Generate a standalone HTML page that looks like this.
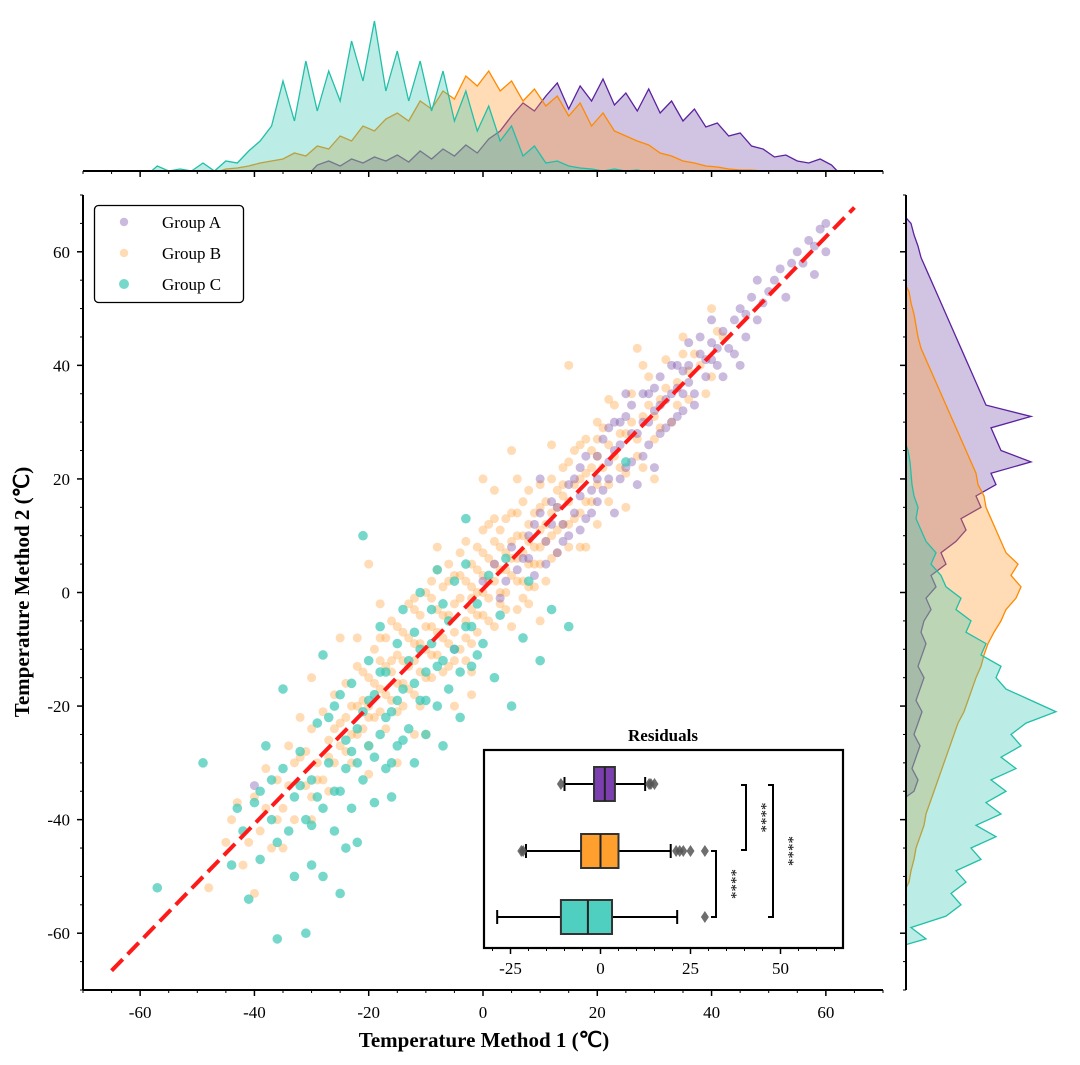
<!DOCTYPE html>
<html><head><meta charset="utf-8">
<style>
html,body{margin:0;padding:0;background:#fff;}
svg{display:block;font-family:"Liberation Serif",serif;}
</style></head>
<body>
<svg id="chart" width="1080" height="1065" viewBox="0 0 1080 1065" xmlns="http://www.w3.org/2000/svg"></svg>
<script>
// ---------- data ----------
const groupNames = ["Group A","Group B","Group C"];
const groupA = [[-40,-34],[-5,-10],[0,2],[2,5],[3,-1],[5,8],[6,4],[8,10],[9,3],[10,14],[11,9],[12,16],[13,7],[14,12],[15,19],[16,14],[17,22],[18,13],[19,18],[20,24],[20,16],[21,27],[22,20],[23,14],[23,25],[24,30],[25,22],[26,28],[26,33],[27,19],[28,30],[29,26],[29,35],[30,32],[31,28],[31,38],[32,34],[33,30],[33,40],[34,36],[35,32],[36,40],[36,44],[37,35],[38,42],[39,38],[40,44],[40,48],[41,40],[42,46],[43,43],[44,48],[45,50],[46,45],[47,52],[48,48],[50,53],[52,57],[53,52],[55,60],[56,58],[57,62],[58,56],[59,64],[60,60],[60,65],[45,40],[48,55],[30,22],[25,35],[15,10],[10,20],
[4,2],[7,6],[9,12],[11,5],[13,15],[14,9],[16,20],[17,11],[18,24],[19,14],[21,18],[22,29],[24,20],[25,31],[27,28],[28,24],[30,36],[32,29],[33,35],[34,31],[35,39],[37,33],[38,45],[39,41],[41,43],[42,38],[44,42],[46,49],[49,51],[51,55],[54,58],[58,61],[26,23],[20,20],[23,30],[28,35],[31,33],[35,35],[12,12],[8,6],[36,37],[40,41],[24,26],[17,17],[29,30],[34,40],[22,23]];
const groupB = [[-45,-44],[-43,-37],[-42,-48],[-40,-36],[-39,-42],[-38,-31],[-37,-45],[-36,-33],[-35,-38],[-34,-27],[-33,-40],[-32,-29],[-31,-34],[-30,-24],[-30,-36],[-29,-30],[-28,-21],[-28,-33],[-27,-26],[-26,-18],[-26,-30],[-25,-23],[-24,-28],[-24,-16],[-23,-20],[-22,-25],[-22,-13],[-21,-19],[-20,-27],[-20,-15],[-19,-10],[-19,-22],[-18,-17],[-18,-8],[-17,-24],[-17,-13],[-16,-19],[-16,-5],[-15,-11],[-15,-21],[-14,-16],[-14,-7],[-13,-2],[-13,-13],[-12,-18],[-12,-9],[-11,-4],[-11,-14],[-10,-10],[-10,0],[-9,-6],[-9,-15],[-8,-3],[-8,4],[-8,-11],[-7,-8],[-7,1],[-6,-4],[-6,-13],[-5,3],[-5,-7],[-4,-1],[-4,7],[-4,-10],[-3,-5],[-3,2],[-2,5],[-2,-3],[-2,-9],[-1,0],[-1,8],[0,-4],[0,3],[0,11],[1,-1],[1,6],[2,-6],[2,2],[2,9],[3,4],[3,-2],[4,7],[4,0],[4,13],[5,3],[5,9],[6,-3],[6,6],[6,14],[7,10],[7,2],[8,5],[8,12],[8,18],[9,8],[9,1],[10,11],[10,15],[10,5],[11,9],[12,14],[12,20],[12,6],[13,11],[14,17],[14,22],[15,12],[15,8],[16,19],[16,25],[17,14],[18,21],[18,27],[19,16],[20,24],[20,12],[21,29],[22,19],[22,26],[23,33],[24,22],[25,28],[26,35],[27,24],[28,31],[29,38],[30,27],[31,34],[32,41],[33,30],[34,37],[35,45],[36,34],[38,40],[39,35],[41,46],[-20,5],[-15,-30],[-5,-20],[5,25],[15,40],[25,15],[30,20],[-48,-52],[-40,-53],[10,-5],[-25,-8],[20,30],[35,42],[40,50],[-10,-25],[0,20],[-30,-15],[-6,2],[-3,-12],[1,12],[3,8],[5,-6],[7,16],[-9,-1],[-12,-3],[11,2],[13,18],[17,8],[19,25],[-16,-12],[-20,-20],[-23,-30],[-27,-35],[-11,-20],[-1,-7],
[-44,-40],[-41,-44],[-38,-38],[-36,-40],[-34,-34],[-33,-30],[-31,-28],[-29,-33],[-27,-29],[-26,-24],[-25,-27],[-24,-22],[-23,-25],[-22,-20],[-21,-24],[-21,-14],[-20,-22],[-19,-16],[-18,-21],[-18,-12],[-17,-18],[-17,-8],[-16,-14],[-15,-16],[-15,-6],[-14,-12],[-14,-20],[-13,-8],[-13,-17],[-12,-12],[-12,-1],[-11,-9],[-10,-6],[-10,-15],[-9,-11],[-9,2],[-8,-7],[-7,-4],[-7,-14],[-6,-9],[-6,5],[-5,-2],[-5,-12],[-4,3],[-3,-8],[-3,9],[-2,-1],[-2,1],[-1,4],[-1,-4],[0,0],[0,7],[1,2],[1,-5],[2,5],[2,13],[3,0],[3,11],[4,4],[4,-3],[5,6],[5,14],[6,2],[6,10],[7,7],[7,-1],[8,9],[8,1],[9,14],[9,5],[10,8],[10,19],[11,12],[11,16],[12,10],[13,15],[13,7],[14,12],[14,19],[15,16],[15,23],[16,13],[17,20],[17,26],[18,16],[19,22],[20,19],[20,27],[21,22],[22,16],[23,24],[24,28],[25,21],[26,30],[27,27],[28,22],[29,33],[30,31],[31,29],[32,36],[34,33],[36,39],[37,42],[40,38],[42,45],[-35,-45],[-30,-40],[-20,-32],[-12,-25],[-2,-14],[8,-2],[18,8],[28,40],[-32,-22],[-22,-8],[-8,8],[2,18],[12,26],[22,34],[-2,-18],[6,20],[-18,-2],[27,43]];
const groupC = [[-57,-52],[-49,-30],[-44,-48],[-42,-42],[-41,-54],[-40,-37],[-39,-47],[-38,-27],[-37,-33],[-36,-61],[-36,-44],[-35,-31],[-34,-42],[-33,-36],[-33,-50],[-32,-28],[-31,-40],[-31,-60],[-30,-48],[-30,-33],[-29,-23],[-28,-38],[-28,-50],[-27,-30],[-26,-42],[-26,-20],[-25,-35],[-25,-53],[-24,-26],[-23,-38],[-23,-16],[-22,-30],[-22,-44],[-21,-21],[-21,-33],[-20,-12],[-20,-27],[-19,-37],[-19,-18],[-18,-25],[-18,-6],[-17,-31],[-17,-14],[-16,-21],[-16,-36],[-15,-9],[-15,-27],[-14,-17],[-14,-3],[-13,-24],[-13,-12],[-12,-30],[-12,-7],[-11,-19],[-11,0],[-10,-14],[-10,-25],[-9,-9],[-9,-3],[-8,-20],[-8,4],[-7,-12],[-6,-5],[-6,-17],[-5,2],[-5,-10],[-4,-22],[-3,-6],[-3,5],[-2,-13],[-1,-2],[0,-9],[1,3],[2,-15],[3,-4],[4,6],[5,-20],[7,-8],[8,2],[10,-12],[12,-3],[15,-6],[25,23],[-21,10],[-28,-11],[-35,-17],[-43,-38],[-30,-41],[-24,-45],[-16,-30],[-7,-27],[-3,13],
[-27,-22],[-25,-18],[-24,-31],[-22,-24],[-20,-19],[-19,-29],[-18,-14],[-17,-22],[-15,-19],[-14,-26],[-12,-16],[-11,-10],[-10,-19],[-8,-13],[-7,-2],[-4,-14],[-2,-6],[-1,-11],[-29,-36],[-32,-34],[-37,-40],[-39,-35],[-23,-28],[-26,-35]];
const fitLine = [[-65,-66.6],[65,67.8]];
const xTicks = [-60,-40,-20,0,20,40,60];
const yTicks = [-60,-40,-20,0,20,40,60];
// top marginal histograms: bin start, bin width 2
const topStartA = -30, topA = [6,10,5,12,8,14,10,16,9,20,12,22,15,26,18,32,40,55,68,60,75,88,62,85,70,92,66,78,60,82,58,70,50,62,44,48,35,38,25,22,14,16,10,8,12,6];
const topStartB = -46, topB = [2,3,5,8,10,12,18,15,25,22,35,30,45,40,52,58,50,70,62,80,72,95,85,100,80,90,70,82,65,75,55,68,45,58,40,35,30,26,18,15,10,8,5,4,2,1,1,0];
const topStartC = -58, topC = [5,0,2,0,8,0,10,8,20,30,45,90,50,110,60,100,70,130,90,150,80,120,70,110,60,100,50,80,40,65,30,45,15,25,8,10,5,3,2,0,2,0,1];
// right marginal histograms: bin start (y), bin width 2
const rightStartA = -36, rightA = [8,12,6,10,14,8,12,16,10,14,18,12,16,20,15,18,25,20,30,25,40,35,50,60,55,75,70,90,85,125,95,90,85,125,80,75,70,65,60,55,50,45,40,35,30,25,20,15,12,8,5];
const rightStartB = -52, rightB = [3,5,8,10,14,18,20,24,28,32,36,40,44,48,52,58,62,66,70,75,78,82,88,95,100,110,115,105,112,100,95,90,85,80,78,72,70,65,60,55,50,45,40,35,30,25,20,15,12,10,8,5,3];
const rightStartC = -62, rightC = [20,5,40,55,45,60,50,75,65,90,70,95,80,100,85,110,95,115,105,120,150,125,100,90,95,75,80,60,65,50,55,40,35,25,30,20,15,10,12,8,6,5,4,2];
// inset residual boxplots: [whiskerLow, q1, median, q3, whiskerHigh]
const boxStats = [[-10,-1.8,1.2,4,12.4],[-20.7,-5.4,0,5,19.5],[-28.7,-11,-3.5,3.2,21.3]];
const boxOutliers = [[-11,13.5,14,15],[-21.5,-22,21,22,23,25,29],[29]];
const insetTicks = [-25,0,25,50];

// ---------- layout ----------
const NS="http://www.w3.org/2000/svg";
const svg=document.getElementById('chart');
function mk(tag,attrs,parent){const e=document.createElementNS(NS,tag);for(const k in attrs)e.setAttribute(k,attrs[k]);(parent||svg).appendChild(e);return e;}
const X0=83,X1=883,Y0=195,Y1=990;
const xs=v=>X0+(v+70)/140*(X1-X0);
const ys=v=>Y1-(v+70)/140*(Y1-Y0);
const colors={A:{fill:'#7b52ab',line:'#5b22a0'},B:{fill:'#ff9a2a',line:'#ff8a00'},C:{fill:'#3cc8b4',line:'#22bfa8'}};

// top marginal
const topBase=171, topScale=1.0;
const gTop=mk('g',{});


function topHist(start,arr,c,name){
  let pts=[[xs(start),topBase]];
  arr.forEach((v,i)=>pts.push([xs(start+i*2+1),topBase-v*topScale]));
  pts.push([xs(start+arr.length*2),topBase]);
  const p=mk('polygon',{points:pts.map(p=>p.join(',')).join(' '),fill:c.fill,'fill-opacity':0.35,stroke:c.line,'stroke-width':1.3},gTop);
  
  
}
topHist(topStartA,topA,colors.A,'top-hist-group-a');
topHist(topStartB,topB,colors.B,'top-hist-group-b');
topHist(topStartC,topC,colors.C,'top-hist-group-c');
mk('line',{x1:X0,y1:topBase,x2:X1,y2:topBase,stroke:'#000','stroke-width':2},gTop);
for(let v=-70;v<=70;v+=5){const maj=v%20===0;mk('line',{x1:xs(v),x2:xs(v),y1:topBase,y2:topBase+(maj?6:3),stroke:'#000','stroke-width':maj?1.5:1},gTop);}

// right marginal
const rBase=906, rScale=1.0;
const gR=mk('g',{});


function rightHist(start,arr,c,name){
  let pts=[[rBase,ys(start)]];
  arr.forEach((v,i)=>pts.push([rBase+v*rScale,ys(start+i*2+1)]));
  pts.push([rBase,ys(start+arr.length*2)]);
  const p=mk('polygon',{points:pts.map(p=>p.join(',')).join(' '),fill:c.fill,'fill-opacity':0.35,stroke:c.line,'stroke-width':1.3},gR);
  
  
}
rightHist(rightStartA,rightA,colors.A,'right-hist-group-a');
rightHist(rightStartB,rightB,colors.B,'right-hist-group-b');
rightHist(rightStartC,rightC,colors.C,'right-hist-group-c');
mk('line',{x1:rBase,y1:Y0,x2:rBase,y2:Y1,stroke:'#000','stroke-width':2},gR);
for(let v=-70;v<=70;v+=5){const maj=v%20===0;mk('line',{x1:rBase-(maj?6:3),x2:rBase,y1:ys(v),y2:ys(v),stroke:'#000','stroke-width':maj?1.5:1},gR);}

// scatter
const gS=mk('g',{});


function scatter(arr,c,r,op,name){
  arr.forEach(d=>{const e=mk('circle',{cx:xs(d[0]),cy:ys(d[1]),r:r,fill:c.fill,'fill-opacity':op},gS);
    
    });
}
scatter(groupB,colors.B,4.5,0.35,'point-group-b');
scatter(groupA,colors.A,4.5,0.4,'point-group-a');
scatter(groupC,colors.C,4.8,0.7,'point-group-c');

// fit line
const fl=mk('line',{x1:xs(fitLine[0][0]),y1:ys(fitLine[0][1]),x2:xs(fitLine[1][0]),y2:ys(fitLine[1][1]),stroke:'#ff1a1a','stroke-width':4,'stroke-dasharray':'16,7'});



// axes
mk('line',{x1:X0,y1:Y1,x2:X1,y2:Y1,stroke:'#000','stroke-width':2});
mk('line',{x1:X0,y1:Y0,x2:X0,y2:Y1,stroke:'#000','stroke-width':2});
for(let v=-70;v<=70;v+=5){const maj=v%20===0;
  mk('line',{x1:xs(v),x2:xs(v),y1:Y1,y2:Y1+(maj?6:3),stroke:'#000','stroke-width':maj?1.5:1});
  mk('line',{x1:X0-(maj?6:3),x2:X0,y1:ys(v),y2:ys(v),stroke:'#000','stroke-width':maj?1.5:1});}
xTicks.forEach(v=>{const t=mk('text',{x:xs(v),y:1018,'text-anchor':'middle','font-size':17});t.textContent=v;
  
  });
yTicks.forEach(v=>{const t=mk('text',{x:70,y:ys(v)+6,'text-anchor':'end','font-size':17});t.textContent=v;
  
  });
const xt=mk('text',{x:484,y:1047,'text-anchor':'middle','font-size':21,'font-weight':'bold'});xt.textContent='Temperature Method 1 (℃)';


const yt=mk('text',{x:0,y:0,'text-anchor':'middle','font-size':21,'font-weight':'bold',transform:'translate(29,592) rotate(-90)'});yt.textContent='Temperature Method 2 (℃)';



// legend
const lg=mk('g',{});


mk('rect',{x:94.5,y:205.5,width:149,height:97,rx:4,fill:'#fff',stroke:'#000','stroke-width':1.3},lg);
const legC=[[colors.A,0.4],[colors.B,0.35],[colors.C,0.7]];
groupNames.forEach((n,i)=>{
  const e=mk('g',{},lg);
  
  
  mk('circle',{cx:124,cy:222+i*31,r:i===2?5:4.2,fill:legC[i][0].fill,'fill-opacity':legC[i][1]},e);
  const t=mk('text',{x:162,y:228+i*31,'font-size':17},e);t.textContent=n;
});

// inset
const IX0=484,IX1=843,IY0=750,IY1=948;
const ix=v=>600.5+v*3.6;
const gi=mk('g',{});


mk('rect',{x:IX0,y:IY0,width:IX1-IX0,height:IY1-IY0,fill:'#fff',stroke:'#000','stroke-width':2.2},gi);
const it=mk('text',{x:663,y:741,'text-anchor':'middle','font-size':17,'font-weight':'bold'},gi);it.textContent='Residuals';


for(let v=-30;v<=65;v+=5){const maj=v%25===0;mk('line',{x1:ix(v),x2:ix(v),y1:IY1,y2:IY1+(maj?6:3),stroke:'#000','stroke-width':maj?1.5:1},gi);}
insetTicks.forEach(v=>{const t=mk('text',{x:ix(v),y:974,'text-anchor':'middle','font-size':17},gi);t.textContent=v;
  
  });
const rowY=[784,851,917], boxFill=['#7b3fb0','#ff9f2e','#4ecfc0'];
boxStats.forEach((s,i)=>{
  const y=rowY[i],h=17;
  const g=mk('g',{},gi);
  
  
  mk('line',{x1:ix(s[0]),x2:ix(s[1]),y1:y,y2:y,stroke:'#000','stroke-width':2},g);
  mk('line',{x1:ix(s[3]),x2:ix(s[4]),y1:y,y2:y,stroke:'#000','stroke-width':2},g);
  mk('line',{x1:ix(s[0]),x2:ix(s[0]),y1:y-7,y2:y+7,stroke:'#000','stroke-width':2},g);
  mk('line',{x1:ix(s[4]),x2:ix(s[4]),y1:y-7,y2:y+7,stroke:'#000','stroke-width':2},g);
  mk('rect',{x:ix(s[1]),y:y-h,width:ix(s[3])-ix(s[1]),height:2*h,fill:boxFill[i],stroke:'#333','stroke-width':2},g);
  mk('line',{x1:ix(s[2]),x2:ix(s[2]),y1:y-h,y2:y+h,stroke:'#222','stroke-width':2},g);
  boxOutliers[i].forEach(o=>{const cx=ix(o);mk('polygon',{points:`${cx},${y-6} ${cx+4},${y} ${cx},${y+6} ${cx-4},${y}`,fill:'#555','fill-opacity':0.85},g);});
});
function bracket(x,y1,y2,lx,name){
  const g=mk('g',{},gi);
  
  
  mk('polyline',{points:`${x-5},${y1} ${x},${y1} ${x},${y2} ${x-5},${y2}`,fill:'none',stroke:'#000','stroke-width':2},g);
  const t=mk('text',{x:0,y:0,'text-anchor':'middle','font-size':15,transform:`translate(${lx},${(y1+y2)/2}) rotate(90)`},g);t.textContent='****';
}
bracket(746,785,850,757,'significance-a-b');
bracket(716,851,917,727,'significance-b-c');
bracket(773,785,917,784,'significance-a-c');
</script>
</body></html>
